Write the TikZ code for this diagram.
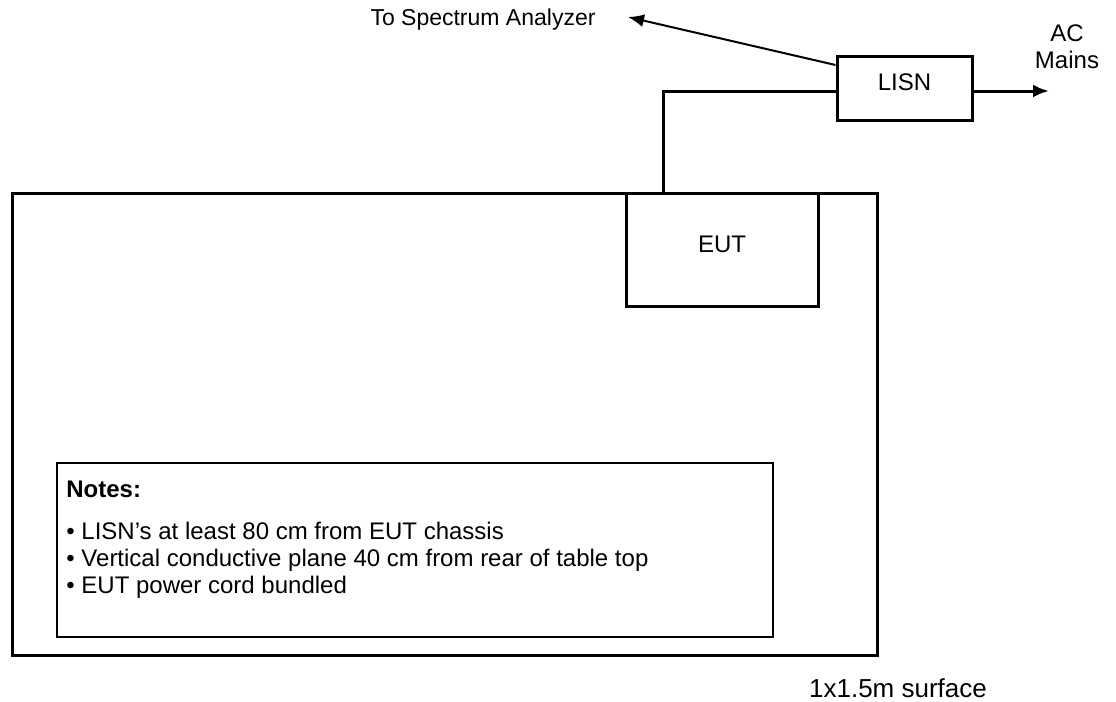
\documentclass[tikz,border=0pt]{standalone}
\usepackage{fontspec}
\setmainfont{Liberation Sans}
\usetikzlibrary{arrows.meta}

\tikzset{
  unit/.style={draw, line width=1.5pt, inner sep=0pt},
  wire/.style={line width=1.5pt},
  lead/.style={line width=1pt, -{Latex[length=8pt,width=6.5pt]}},
  mains/.style={line width=1.5pt, -{Latex[length=8pt,width=6.5pt]}},
}

\begin{document}
\begin{tikzpicture}[x=0.5pt,y=-0.5pt,font=\fontsize{12}{13.5}\selectfont]
  \useasboundingbox (0,0) rectangle (1116,702);

  % table top and units on it
  \node[unit, minimum width=432.5pt, minimum height=231pt] (table) at (444.5,424) {};
  \node[unit, minimum width=96pt, minimum height=56.5pt] (eut) at (722,249.5) {};
  \node (euttext) at (722,244) {EUT};
  \node[unit, minimum width=67.5pt, minimum height=32pt] (lisn) at (904.5,88) {};
  \node (lisntext) at (904.5,82) {LISN};

  % notes
  \node[draw, line width=1pt, minimum width=358pt, minimum height=87pt] (notes) at (415,550) {};
  \node[anchor=north west, align=left, inner sep=0pt] (notetext) at (66,481)
    {\textbf{Notes:}\\[7.5pt]
     \textbullet{} LISN’s at least 80 cm from EUT chassis\\
     \textbullet{} Vertical conductive plane 40 cm from rear of table top\\
     \textbullet{} EUT power cord bundled};

  % labels
  \node[font=\fontsize{11.5}{13.5}\selectfont] (sa) at (483,20) {To Spectrum Analyzer};
  \node[align=center] (ac) at (1067,47) {AC\\Mains};
  \node[font=\fontsize{13}{15}\selectfont] (surface) at (898,688) {1x1.5m surface};

  % cabling
  \coordinate (cordup) at (663,91);
  \coordinate (satip) at (628,17);
  \coordinate (actip) at (1049,91);
  \draw[wire] (eut.north -| cordup) -- (cordup) -- (cordup -| lisn.west);
  \draw[lead] (lisn.west |- 0,65) -- (satip);
  \draw[mains] (lisn.east |- actip) -- (actip);
\end{tikzpicture}
\end{document}
